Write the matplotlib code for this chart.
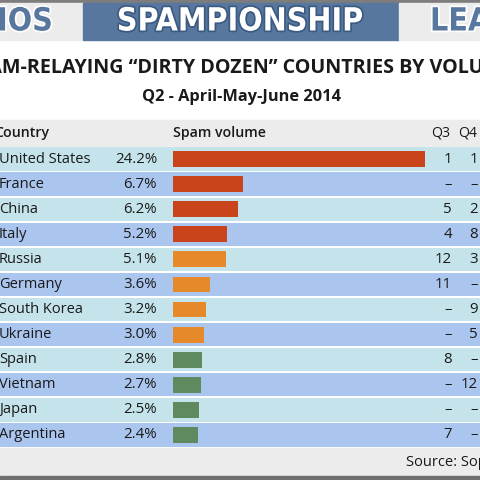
import matplotlib
matplotlib.use("Agg")
import matplotlib.pyplot as plt
import matplotlib.patheffects as pe

# data
countries = ["United States", "France", "China", "Italy", "Russia", "Germany",
             "South Korea", "Ukraine", "Spain", "Vietnam", "Japan", "Argentina"]
volume = [24.2, 6.7, 6.2, 5.2, 5.1, 3.6, 3.2, 3.0, 2.8, 2.7, 2.5, 2.4]
q3_rank = ["1", "–", "5", "4", "12", "11", "–", "–", "8", "–", "–", "7"]
q4_rank = ["1", "–", "2", "8", "3", "–", "9", "5", "–", "12", "–", "–"]
tier_colors = ["#c9441a"] * 4 + ["#e5892a"] * 4 + ["#5f8a60"] * 4

title = "SPAM-RELAYING \u201cDIRTY DOZEN\u201d COUNTRIES BY VOLUME"
subtitle = "Q2 - April-May-June 2014"
source = "Source: Sophos"

plt.rcParams["font.family"] = ["Open Sans", "DejaVu Sans"]
ink = "#1a1a1a"

fig = plt.figure(figsize=(4.8, 4.8), dpi=100)
fig.patch.set_facecolor("white")

# whole-figure axes in pixel units for the frame and headings
ax = fig.add_axes([0, 0, 1, 1])
ax.set_xlim(0, 480)
ax.set_ylim(480, 0)
ax.axis("off")

# banner
ax.axhspan(0, 2.5, color="#7d7d7d")
ax.axhspan(2.5, 39.5, xmin=0, xmax=82.5 / 480, color="#ececec")
ax.axhspan(2.5, 39.5, xmin=82.5 / 480, xmax=398.5 / 480, color="#58779e")
ax.axhspan(2.5, 39.5, xmin=398.5 / 480, xmax=1, color="#ececec")
banner = dict(va="center", fontsize=23, fontweight="bold",
              family="DejaVu Sans", fontstretch="condensed")
ax.text(240, 22, "SPAMPIONSHIP", ha="center", color="white",
        path_effects=[pe.withStroke(linewidth=2.5, foreground="#3b5a82")],
        **banner)
ax.text(53, 22, "SOPHOS", ha="right", color="#58779e",
        path_effects=[pe.withStroke(linewidth=2.5, foreground="white")],
        **banner)
ax.text(430, 22, "LEAGUE", ha="left", color="#58779e",
        path_effects=[pe.withStroke(linewidth=2.5, foreground="white")],
        **banner)

ax.text(240, 68, title, ha="center", va="center", fontsize=14.2,
        fontweight="bold", color=ink)
ax.text(241, 97, subtitle, ha="center", va="center", fontsize=11.8,
        fontweight="bold", color=ink)

# header row
ax.axhspan(120, 146, color="#ececec")
ax.text(-6, 133, "Country", ha="left", va="center", fontsize=10.2,
        fontweight="semibold", color=ink)
ax.text(173, 133, "Spam volume", ha="left", va="center", fontsize=10.2,
        fontweight="semibold", color=ink)
ax.text(450, 133, "Q3", ha="right", va="center", fontsize=10.2, color=ink)
ax.text(477, 133, "Q4", ha="right", va="center", fontsize=10.2, color=ink)

# footer
ax.axhspan(447.5, 476, color="#ececec")
ax.axhspan(476, 480, color="#6e6e6e")
ax.text(406, 463, source, ha="left", va="center", fontsize=10.5, color=ink)

# table axes: x in pixels, y in rows
top, bottom = 146.5, 447.5
tab = fig.add_axes([0, (480 - bottom) / 480, 1, (bottom - top) / 480])
tab.set_xlim(0, 480)
tab.set_ylim(len(countries) - 0.5, -0.5)
tab.axis("off")
tab.patch.set_alpha(0)

rows = range(len(countries))
row_bg = ["#c5e3ea" if i % 2 == 0 else "#abc6ee" for i in rows]
tab.barh(rows, 480, left=0, height=0.93, color=row_bg)

px_per_pct = 252 / 24.2
tab.barh(rows, [v * px_per_pct for v in volume], left=173, height=0.63,
         color=tier_colors)

for i, name in enumerate(countries):
    tab.text(-1, i, name, ha="left", va="center", fontsize=10.5, color=ink)
    tab.text(157, i, f"{volume[i]:.1f}%", ha="right", va="center",
             fontsize=10.8, color=ink)
    tab.text(452, i, q3_rank[i], ha="right", va="center", fontsize=10.8,
             color=ink)
    tab.text(478, i, q4_rank[i], ha="right", va="center", fontsize=10.8,
             color=ink)

fig.savefig("out.png", dpi=100)
